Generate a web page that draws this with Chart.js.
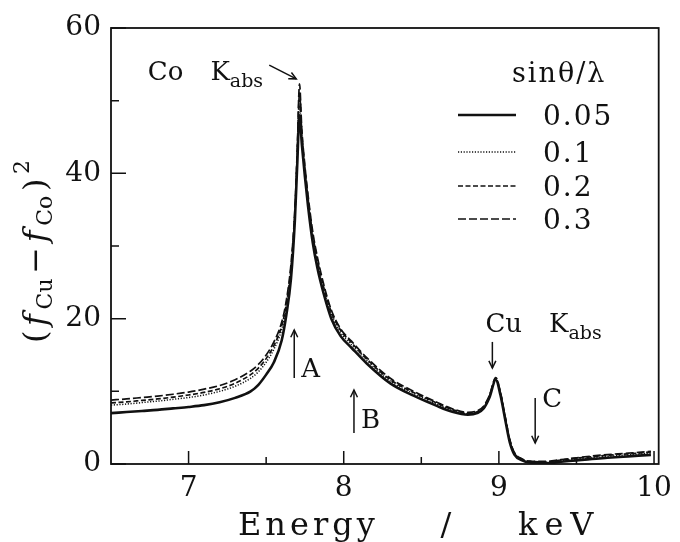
<!DOCTYPE html>
<html><head><meta charset="utf-8">
<script src="https://cdn.jsdelivr.net/npm/chart.js@4/dist/chart.umd.min.js"></script>
<style>html,body{margin:0;padding:0;background:#fff;}#wrap{width:680px;height:542px;position:relative;}</style>
</head><body><div id="wrap"><canvas id="c" width="680" height="542"></canvas></div>
<script>
// ---- data ----
const energy = [6.5,6.6,6.7,6.8,6.9,7.0,7.1,7.2,7.3,7.4,
  7.45,7.5,7.55,7.6,
  7.63,7.66,7.685,7.70,7.715,
  7.73,7.75,7.77,7.80,7.83,
  7.87,7.92,7.98,8.05,8.15,
  8.3,8.45,8.6,8.7,8.8,
  8.86,8.9,8.94,8.98,9.01,
  9.04,9.07,9.1,9.15,9.2,
  9.3,9.4,9.5,9.6,9.7,
  9.8,9.9,9.98];
const s005 = [7.0,7.15,7.3,7.45,7.65,7.85,8.1,8.5,9.1,10.0,
  10.9,12.3,14.0,17.0,
  20.5,25.5,33.5,41,48,
  44,39.5,35.5,30.5,27,
  23.5,20,17.6,16.0,13.8,
  11.1,9.4,8.0,7.2,6.8,
  7.0,7.6,9.2,11.6,9.5,
  6.2,3.0,1.3,0.5,0.2,
  0.1,0.3,0.5,0.7,0.85,
  1.0,1.15,1.25];
const s01 = [8.1,8.25,8.45,8.65,8.9,9.15,9.5,10.0,10.7,11.8,
  12.7,14.0,15.8,18.5,
  21.5,26.5,34,42,49.5,
  45,40.2,36.2,31.2,27.7,
  24.1,20.6,18.1,16.4,14.2,
  11.4,9.7,8.25,7.4,6.9,
  7.1,7.7,9.3,11.7,9.7,
  6.4,3.2,1.4,0.6,0.3,
  0.2,0.45,0.65,0.85,1.05,
  1.2,1.35,1.5];
const s02 = [8.4,8.55,8.75,8.95,9.2,9.5,9.85,10.35,11.1,12.3,
  13.2,14.5,16.3,19.0,
  22,27,34.5,42.5,51,
  45.5,40.6,36.6,31.6,28.1,
  24.4,20.9,18.4,16.7,14.4,
  11.6,9.85,8.4,7.5,7.0,
  7.2,7.8,9.4,11.8,9.8,
  6.5,3.3,1.5,0.65,0.35,
  0.3,0.55,0.8,1.0,1.2,
  1.35,1.5,1.65];
const s03 = [8.8,8.95,9.15,9.35,9.6,9.9,10.3,10.8,11.6,12.8,
  13.7,15.0,16.8,19.5,
  22.5,27.5,35,43,52.3,
  46,41,37,32,28.5,
  24.8,21.2,18.6,16.9,14.6,
  11.8,10.0,8.5,7.6,7.1,
  7.3,7.9,9.5,11.9,9.9,
  6.6,3.4,1.6,0.7,0.4,
  0.35,0.6,0.85,1.1,1.3,
  1.45,1.6,1.75];
const seriesLabels = ['0.05','0.1','0.2','0.3'];
const legendTitle = 'sinθ/λ';
const xMajorTicks = [7,8,9,10];
const xMinorTicks = [7.5,8.5,9.5];
const yMajorTicks = [0,20,40,60];
const yMinorTicks = [10,30,50];
const xTitleWords = ['Energy','/','keV'];

// ---- styles / annotations ----
const SERIF = '"DejaVu Serif", "Liberation Serif", serif';
const INK = '#111';
const styles = [
  {borderDash:[], borderWidth:2.6},
  {borderDash:[1.2,1.6], borderWidth:1.5},
  {borderDash:[5,2.5], borderWidth:1.7},
  {borderDash:[8,3], borderWidth:1.7}
];
const notes = [
  {parts:[{t:'Co'},{t:'K',gap:27},{t:'abs',sub:true}], x:6.7375, y:52.84},
  {parts:[{t:'Cu'},{t:'K',gap:27},{t:'abs',sub:true}], x:8.913, y:18.16},
  {parts:[{t:'A'}], x:7.726, y:11.97},
  {parts:[{t:'B'}], x:8.111, y:4.95},
  {parts:[{t:'C'}], x:9.279, y:7.84}
];
const arrows = [
  {x1:7.52,y1:54.9,x2:7.694,y2:53.0},
  {x1:8.958,y1:16.8,x2:8.958,y2:13.2},
  {x1:7.681,y1:11.83,x2:7.681,y2:18.44},
  {x1:8.066,y1:4.27,x2:8.066,y2:10.18},
  {x1:9.234,y1:9.08,x2:9.234,y2:2.89}
];

const allSeries = [s005,s01,s02,s03];
const datasets = allSeries.map((s,i)=>({
  label: seriesLabels[i],
  data: energy.map((e,j)=>({x:e,y:s[j]})),
  borderColor: INK,
  borderWidth: styles[i].borderWidth,
  borderDash: styles[i].borderDash,
  pointRadius: 0,
  fill: false,
  cubicInterpolationMode: 'monotone'
}));

function arrowHead(ctx, x, y, ang){
  const L=8, W=0.45;
  ctx.beginPath();
  ctx.moveTo(x - L*Math.cos(ang-W), y - L*Math.sin(ang-W));
  ctx.lineTo(x, y);
  ctx.lineTo(x - L*Math.cos(ang+W), y - L*Math.sin(ang+W));
  ctx.stroke();
}

const decor = {
  id:'decor',
  afterDraw(chart){
    const ctx = chart.ctx, a = chart.chartArea, xs = chart.scales.x, ys = chart.scales.y;
    ctx.save();
    ctx.strokeStyle = INK; ctx.fillStyle = INK;
    // frame
    ctx.lineWidth = 1.8; ctx.setLineDash([]);
    ctx.strokeRect(a.left, a.top, a.right-a.left, a.bottom-a.top);
    // inward ticks
    ctx.lineWidth = 1.5;
    ctx.beginPath();
    xMajorTicks.forEach(v=>{const p=xs.getPixelForValue(v); ctx.moveTo(p,a.bottom); ctx.lineTo(p,a.bottom-13);});
    xMinorTicks.forEach(v=>{const p=xs.getPixelForValue(v); ctx.moveTo(p,a.bottom); ctx.lineTo(p,a.bottom-7);});
    yMajorTicks.forEach(v=>{const p=ys.getPixelForValue(v); ctx.moveTo(a.left,p); ctx.lineTo(a.left+15,p);});
    yMinorTicks.forEach(v=>{const p=ys.getPixelForValue(v); ctx.moveTo(a.left,p); ctx.lineTo(a.left+8,p);});
    ctx.stroke();

    // x title: words placed with letter spacing
    ctx.font = '32px ' + SERIF; ctx.textBaseline = 'alphabetic'; ctx.textAlign='left';
    ctx.letterSpacing = '4px';
    ctx.fillText(xTitleWords[0], 238, 535);
    ctx.letterSpacing = '0px';
    ctx.textAlign = 'center';
    ctx.fillText(xTitleWords[1], 446, 535);
    ctx.textAlign = 'left';
    ctx.letterSpacing = '7px';
    ctx.fillText(xTitleWords[2], 518, 535);
    ctx.letterSpacing = '0px';

    // y title rotated
    const parts = [
      {t:'(', f:'32px '+SERIF, dy:0},
      {t:'f', f:'italic 32px '+SERIF, dy:0},
      {t:'Cu', f:'22px '+SERIF, dy:6},
      {t:'−', f:'32px '+SERIF, dy:0},
      {t:'f', f:'italic 32px '+SERIF, dy:0},
      {t:'Co', f:'22px '+SERIF, dy:6},
      {t:')', f:'32px '+SERIF, dy:0},
      {t:'2', f:'22px '+SERIF, dy:-17}
    ];
    ctx.save();
    ctx.translate(46, 343);
    ctx.rotate(-Math.PI/2);
    const pw = parts.map(p=>{ctx.font=p.f; return ctx.measureText(p.t).width;});
    const ptot = pw.reduce((s,w)=>s+w,0);
    const pgap = (183 - ptot)/(parts.length-1);
    let u = 0;
    parts.forEach((p,i)=>{ ctx.font=p.f; ctx.fillText(p.t, u, p.dy); u += pw[i] + pgap; });
    ctx.restore();

    // legend
    const lx0 = 458, lx1 = 516, tx = 543;
    ctx.font = '27px ' + SERIF;
    ctx.letterSpacing = '2px';
    ctx.fillText(legendTitle, 512, 82);
    const rowBase = [125, 162, 196, 229];
    chart.data.datasets.forEach((d,i)=>{
      const yb = rowBase[i];
      ctx.font = '28px ' + SERIF;
      ctx.fillText(d.label, tx, yb);
      ctx.save();
      ctx.lineWidth = d.borderWidth; ctx.setLineDash(d.borderDash);
      ctx.beginPath(); ctx.moveTo(lx0, yb-10); ctx.lineTo(lx1, yb-10); ctx.stroke();
      ctx.restore();
    });
    ctx.letterSpacing = '0px';

    // annotations
    notes.forEach(n=>{
      let px = xs.getPixelForValue(n.x), py = ys.getPixelForValue(n.y);
      n.parts.forEach(p=>{
        if (p.gap) px += p.gap;
        ctx.font = (p.sub ? '19px ' : '26px ') + SERIF;
        ctx.fillText(p.t, px, py + (p.sub ? 7 : 0));
        px += ctx.measureText(p.t).width;
      });
    });
    ctx.lineWidth = 1.5;
    arrows.forEach(r=>{
      const X1 = xs.getPixelForValue(r.x1), Y1 = ys.getPixelForValue(r.y1);
      const X2 = xs.getPixelForValue(r.x2), Y2 = ys.getPixelForValue(r.y2);
      ctx.beginPath(); ctx.moveTo(X1,Y1); ctx.lineTo(X2,Y2); ctx.stroke();
      arrowHead(ctx, X2, Y2, Math.atan2(Y2-Y1, X2-X1));
    });
    ctx.restore();
  }
};

new Chart(document.getElementById('c'), {
  type:'line',
  data:{datasets},
  options:{
    responsive:false, animation:false,
    layout:{padding:{top:28, right:18, left:0, bottom:0}},
    plugins:{legend:{display:false}, tooltip:{enabled:false}},
    scales:{
      x:{type:'linear', min:6.5, max:10.03,
        afterBuildTicks:s=>{s.ticks = xMajorTicks.map(v=>({value:v}));},
        afterFit:s=>{s.height = 78;},
        grid:{display:false, drawTicks:false}, border:{display:false},
        ticks:{font:{family:SERIF, size:28}, color:INK, padding:8, maxRotation:0, autoSkip:false}},
      y:{type:'linear', min:0, max:60,
        afterBuildTicks:s=>{s.ticks = yMajorTicks.map(v=>({value:v}));},
        afterFit:s=>{s.width = 111;},
        grid:{display:false, drawTicks:false}, border:{display:false},
        ticks:{font:{family:SERIF, size:28}, color:INK, padding:10, autoSkip:false}}
    }
  },
  plugins:[decor]
});
</script></body></html>
